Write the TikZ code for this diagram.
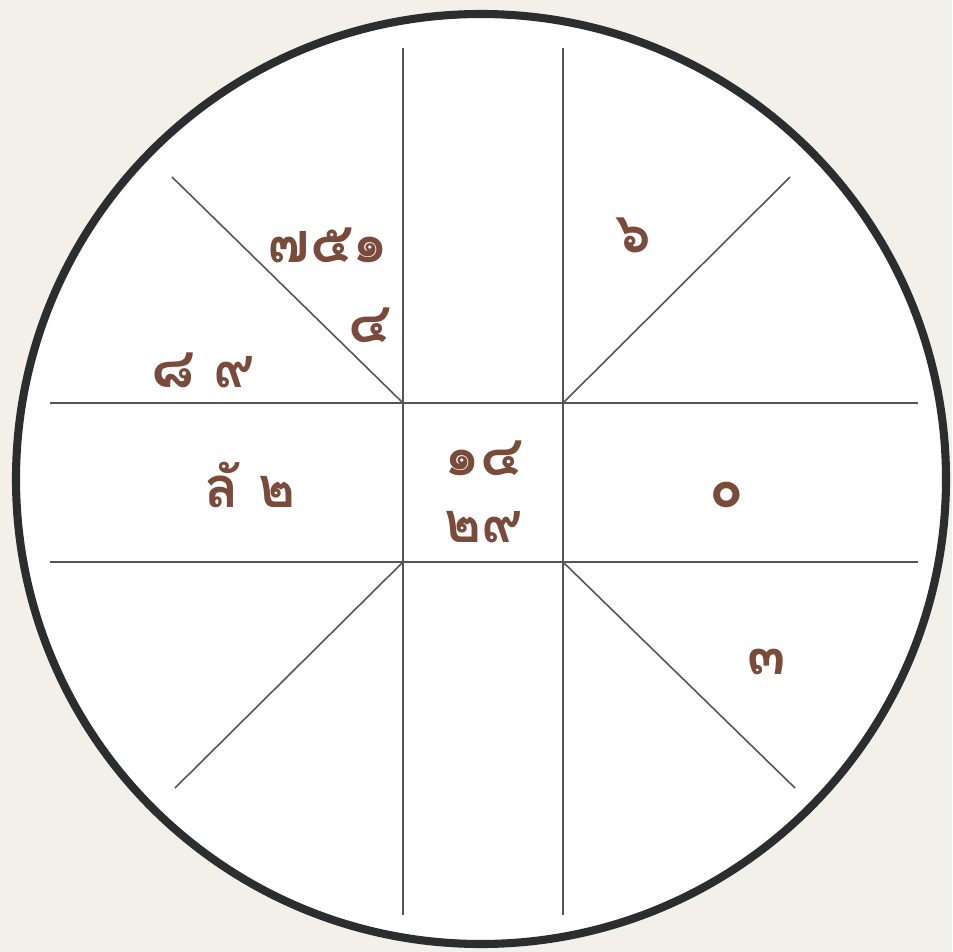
\documentclass[tikz,border=0pt]{standalone}
\usepackage{fontspec}
\newfontfamily\thaifont[Script=Thai]{Loma}
\usepackage{xcolor}
\usepackage{tikz}
\usetikzlibrary{positioning}

\definecolor{paper}{HTML}{F3F0EA}
\definecolor{ring}{HTML}{2B2E2E}
\definecolor{rule}{HTML}{555555}
\definecolor{ink}{HTML}{7A4A3A}

\begin{document}
\begin{tikzpicture}[
    x=0.01cm, y=-0.01cm,
    num/.style={text=ink, font=\thaifont\bfseries\fontsize{16}{18}\selectfont, inner sep=1pt},
    grid/.style={draw=rule, line width=0.45pt},
    wheel/.style={draw=ring, line width=2.3pt, fill=white}
]

\fill[paper] (0,0) rectangle (952,952);
\useasboundingbox (0,0) rectangle (952,952);
\path[wheel] (481,479) circle (465);

% grid corners
\coordinate (nw) at (403,403);
\coordinate (ne) at (563,403);
\coordinate (sw) at (403,562);
\coordinate (se) at (563,562);

\draw[grid] (403,48) -- (403,915);
\draw[grid] (563,48) -- (563,915);
\draw[grid] (50,403) -- (918,403);
\draw[grid] (50,562) -- (918,562);
\draw[grid] (172,177) -- (nw);
\draw[grid] (790,177) -- (ne);
\draw[grid] (175,788) -- (sw);
\draw[grid] (795,788) -- (se);

\node[num] (h1) at (328,245) {๗๕๑};
\node[num] (h2) at (370,325) {๔};
\node[num] (h3) at (203,370) {๘ ๙};
\node[num] (h4) at (633,235) {๖};
\node[num] (h5) at (250,485) {ลั ๒};
\node[num] (c1) at (484,458) {๑๔};
\node[num] (c2) at (484,527) {๒๙};
\node[num] (h6) at (727,495) {๐};
\node[num] (h7) at (767,662) {๓};

\end{tikzpicture}
\end{document}
